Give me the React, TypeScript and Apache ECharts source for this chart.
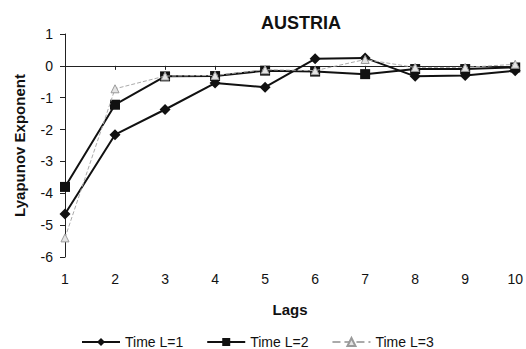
import React, { useEffect, useRef } from "react";
import * as echarts from "echarts";

const lags = [1, 2, 3, 4, 5, 6, 7, 8, 9, 10];
const timeL1 = [-4.65, -2.16, -1.37, -0.54, -0.67, 0.22, 0.25, -0.33, -0.3, -0.15];
const timeL2 = [-3.8, -1.22, -0.33, -0.32, -0.15, -0.18, -0.26, -0.1, -0.1, -0.05];
const timeL3 = [-5.4, -0.72, -0.32, -0.3, -0.12, -0.15, 0.2, -0.05, -0.05, 0.05];
const seriesNames = ["Time L=1", "Time L=2", "Time L=3"];

const FONT = "Liberation Sans, Arial, sans-serif";

export default function App() {
  const ref = useRef<HTMLDivElement>(null);
  useEffect(() => {
    if (!ref.current) return;
    const chart = echarts.init(ref.current, null, { renderer: "svg" });
    const pair = (arr: number[]) => lags.map((x, i) => [x, arr[i]]);
    chart.setOption({
      animation: false,
      backgroundColor: "#fff",
      textStyle: { fontFamily: FONT },
      title: {
        text: "AUSTRIA",
        left: 296,
        top: 9,
        textAlign: "center",
        textStyle: { fontFamily: FONT, fontSize: 18, fontWeight: "bold", color: "#111" },
      },
      legend: {
        left: 76,
        top: 330,
        itemWidth: 38,
        itemHeight: 10,
        itemGap: 23,
        textStyle: { fontFamily: FONT, fontSize: 14, color: "#111" },
        data: seriesNames,
      },
      grid: { left: 65, right: 10, top: 34, bottom: 92 },
      xAxis: [
        {
          type: "value",
          min: 1,
          max: 10,
          interval: 1,
          position: "bottom",
          axisLine: { show: false, onZero: false },
          axisTick: { show: false },
          splitLine: { show: false },
          axisLabel: { fontFamily: FONT, fontSize: 14, color: "#111", margin: 15 },
          name: "Lags",
          nameLocation: "middle",
          nameGap: 45,
          nameTextStyle: { fontFamily: FONT, fontSize: 15, fontWeight: "bold", color: "#111" },
        },
        {
          type: "value",
          min: 1,
          max: 10,
          interval: 1,
          position: "bottom",
          axisLine: { show: true, onZero: true, lineStyle: { color: "#222", width: 1 } },
          axisTick: { show: true, length: 4, lineStyle: { color: "#222" } },
          axisLabel: { show: false },
          splitLine: { show: false },
        },
      ],
      yAxis: {
        type: "value",
        min: -6,
        max: 1,
        interval: 1,
        axisLine: { show: true, lineStyle: { color: "#222", width: 1 } },
        axisTick: { show: true, length: 5, lineStyle: { color: "#222" } },
        splitLine: { show: false },
        axisLabel: { fontFamily: FONT, fontSize: 14, color: "#111", margin: 12 },
        name: "Lyapunov Exponent",
        nameLocation: "middle",
        nameGap: 38,
        nameTextStyle: { fontFamily: FONT, fontSize: 15, fontWeight: "bold", color: "#111" },
      },
      series: [
        {
          name: seriesNames[0],
          type: "line",
          xAxisIndex: 0,
          data: pair(timeL1),
          symbol: "diamond",
          symbolSize: 11,
          itemStyle: { color: "#111" },
          lineStyle: { color: "#111", width: 2 },
          z: 3,
        },
        {
          name: seriesNames[1],
          type: "line",
          xAxisIndex: 0,
          data: pair(timeL2),
          symbol: "rect",
          symbolSize: 10,
          itemStyle: { color: "#111" },
          lineStyle: { color: "#111", width: 2 },
          z: 4,
        },
        {
          name: seriesNames[2],
          type: "line",
          xAxisIndex: 0,
          data: pair(timeL3),
          symbol: "triangle",
          symbolSize: 8,
          itemStyle: { color: "#e4e4e4", borderColor: "#9a9a9a", borderWidth: 1 },
          lineStyle: { color: "#aaaaaa", width: 1, type: "dashed" },
          z: 5,
        },
      ],
    });
    return () => chart.dispose();
  }, []);
  return <div ref={ref} style={{ width: 526, height: 349, position: "absolute", left: 0, top: 0 }} />;
}
